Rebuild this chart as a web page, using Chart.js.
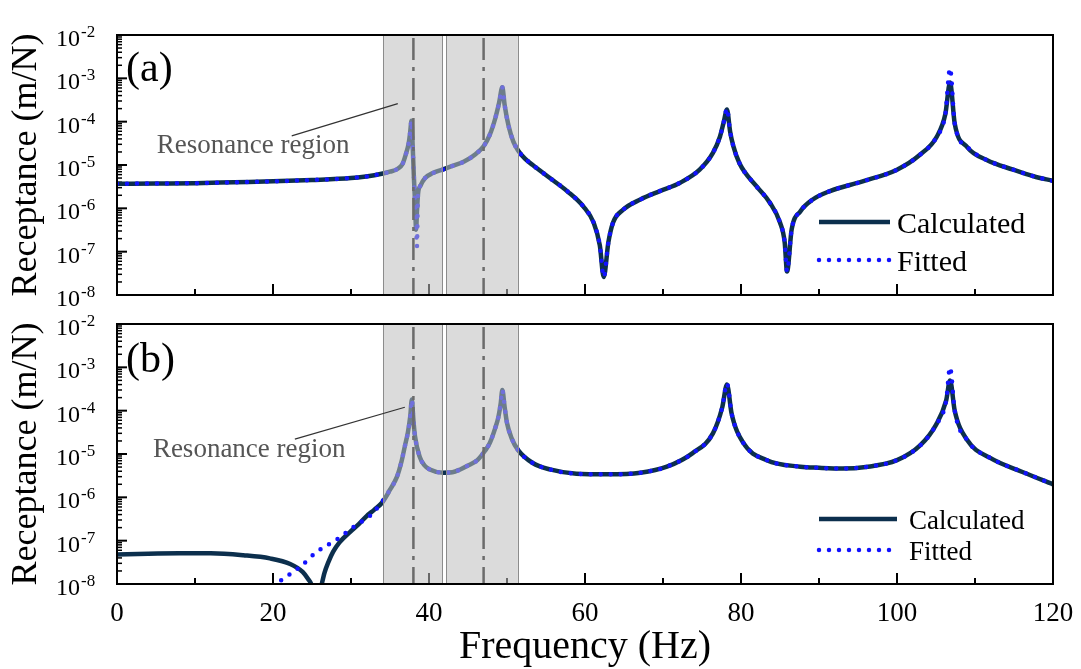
<!DOCTYPE html>
<html lang="en">
<head>
<meta charset="UTF-8">
<title>Receptance</title>
<script src="https://cdn.jsdelivr.net/npm/chart.js"></script>
<style>
  body { margin: 0; background: #fff; }
  #wrap { position: relative; width: 1081px; height: 669px; }
  canvas { position: absolute; left: 0; }
  #chartA { top: 0; }
  #chartB { top: 310px; }
</style>
</head>
<body>
<div id="wrap">
  <canvas id="chartA" width="1081" height="310"></canvas>
  <canvas id="chartB" width="1081" height="359"></canvas>
</div>
<script>
// ---- panel (a) ----
const aHz = [0, 5, 10, 15, 20, 25, 30, 33, 35, 36,
  36.6, 37.0, 37.4, 37.6, 37.75, 37.9, 38.05, 38.2, 38.35, 38.45,
  38.6, 38.9, 39.5, 40.5, 41.7, 43, 44.5, 46, 47, 47.8,
  48.5, 49.0, 49.4, 49.7, 50.2, 50.8, 51.4, 52.3, 53.3, 55.5,
  57.7, 59.8, 61.1, 61.9, 62.4, 63.0, 63.6, 64.9, 67.1, 69.6,
  72.2, 74.7, 76.4, 77.3, 77.8, 78.2, 78.6, 79.0, 79.8, 82.0,
  83.7, 85.0, 85.6, 85.9, 86.5, 87.6, 89.2, 91.4, 95.6, 100,
  102.9, 105.1, 106.2, 106.8, 107.4, 109, 111.5, 114.9, 117.5, 120];
const aCalc = [3.7e-6, 3.75e-6, 3.8e-6, 4.0e-6, 4.2e-6, 4.5e-6, 5.0e-6, 5.8e-6, 7.0e-6, 8.2e-6,
  1.05e-5, 1.7e-5, 3.2e-5, 6.0e-5, 1.05e-4, 3.0e-5, 6.0e-6, 1.5e-6, 3.2e-7, 8e-7,
  2.2e-6, 3.3e-6, 5.0e-6, 6.5e-6, 7.8e-6, 9.5e-6, 1.2e-5, 1.8e-5, 2.7e-5, 5.0e-5,
  1.2e-4, 2.8e-4, 6.2e-4, 2.4e-4, 8.0e-5, 3.5e-5, 2.2e-5, 1.4e-5, 1.0e-5, 5.0e-6,
  2.5e-6, 1.1e-6, 4.7e-7, 1.4e-7, 2.6e-8, 1.65e-7, 4.7e-7, 9.3e-7, 1.6e-6, 2.5e-6,
  3.9e-6, 7.8e-6, 1.9e-5, 4.5e-5, 1.0e-4, 1.9e-4, 6.0e-5, 2.8e-5, 1.1e-5, 3.2e-6,
  1.35e-6, 4.7e-7, 1.65e-7, 3.5e-8, 3.3e-7, 8.5e-7, 1.6e-6, 2.5e-6, 4.2e-6, 7.8e-6,
  1.7e-5, 4.5e-5, 1.5e-4, 8.0e-4, 9.0e-5, 2.6e-5, 1.3e-5, 7.8e-6, 5.5e-6, 4.3e-6];
const aFit = [3.7e-6, 3.75e-6, 3.8e-6, 4.0e-6, 4.2e-6, 4.5e-6, 5.0e-6, 5.8e-6, 7.0e-6, 8.2e-6,
  1.05e-5, 1.7e-5, 3.2e-5, 6.0e-5, 1.05e-4, 3.0e-5, 6.0e-6, 1.5e-6, 5e-7, 1.3e-7,
  2.2e-6, 3.3e-6, 5.0e-6, 6.5e-6, 7.8e-6, 9.5e-6, 1.2e-5, 1.8e-5, 2.7e-5, 5.0e-5,
  1.2e-4, 2.8e-4, 6.2e-4, 2.4e-4, 8.0e-5, 3.5e-5, 2.2e-5, 1.4e-5, 1.0e-5, 5.0e-6,
  2.5e-6, 1.1e-6, 4.7e-7, 1.4e-7, 2.6e-8, 1.65e-7, 4.7e-7, 9.3e-7, 1.6e-6, 2.5e-6,
  3.9e-6, 7.8e-6, 1.9e-5, 4.5e-5, 1.0e-4, 2.0e-4, 6.0e-5, 2.8e-5, 1.1e-5, 3.2e-6,
  1.35e-6, 4.7e-7, 1.65e-7, 3.5e-8, 3.3e-7, 8.5e-7, 1.6e-6, 2.5e-6, 4.2e-6, 7.8e-6,
  1.7e-5, 4.5e-5, 1.5e-4, 1.7e-3, 9.0e-5, 2.6e-5, 1.3e-5, 7.8e-6, 5.5e-6, 4.3e-6];

// ---- panel (b) ----
const bHz = [0, 4, 8, 12, 16.2, 19.6, 22.2, 23.8, 24.5, 25.0,
  25.6, 26.2, 26.6, 27.1, 27.7, 28.5, 29.9, 31.0, 32.0, 33.0,
  34.0, 35.0, 35.9, 36.5, 36.9, 37.3, 37.6, 37.8, 38.0, 38.2,
  38.8, 39.4, 40.1, 41.8, 43.0, 44.0, 45.0, 46.2, 47.2, 47.8,
  48.5, 48.9, 49.2, 49.4, 49.7, 50.0, 50.6, 51.4, 53.3, 55.5,
  58.9, 62.8, 67.1, 70.5, 73.8, 76.4, 77.6, 78.2, 78.8, 80.3,
  83.3, 87.6, 90, 93, 96, 100, 103, 105, 106.3, 106.8,
  107.4, 109, 112, 116, 120];
const bCalc = [4.8e-8, 5.0e-8, 5.1e-8, 5.1e-8, 4.6e-8, 3.9e-8, 2.9e-8, 1.9e-8, 1.3e-8, 9e-9,
  3e-9, 9e-9, 1.8e-8, 3.2e-8, 5.5e-8, 9e-8, 1.6e-7, 2.4e-7, 3.7e-7, 5.2e-7,
  7.6e-7, 1.5e-6, 3.0e-6, 7.0e-6, 1.5e-5, 3.2e-5, 7.5e-5, 1.8e-4, 6.0e-5, 2.6e-5,
  8.7e-6, 5.5e-6, 4.4e-6, 3.7e-6, 3.8e-6, 4.4e-6, 5.4e-6, 7.2e-6, 1.2e-5, 1.8e-5,
  4.0e-5, 7.2e-5, 1.5e-4, 3.0e-4, 1.2e-4, 5.2e-5, 2.3e-5, 1.25e-5, 6.2e-6, 4.4e-6,
  3.5e-6, 3.4e-6, 3.7e-6, 5.1e-6, 1.05e-5, 3.0e-5, 1.2e-4, 4.0e-4, 8.5e-5, 1.8e-5,
  7.2e-6, 5.1e-6, 4.8e-6, 4.6e-6, 5.0e-6, 7.2e-6, 1.6e-5, 4.7e-5, 1.7e-4, 5.0e-4,
  1.0e-4, 2.1e-5, 8.0e-6, 3.9e-6, 2.0e-6];
const bFitHz = [20.3, 20.7, 22.0, 23.5, 25.6, 28.2, 30.8, 32.4, 34.0,
  35.0, 35.9, 36.5, 36.9, 37.3, 37.6, 37.8, 38.0, 38.2,
  38.8, 39.4, 40.1, 41.8, 43.0, 44.0, 45.0, 46.2, 47.2, 47.8,
  48.5, 48.9, 49.2, 49.4, 49.7, 50.0, 50.6, 51.4, 53.3, 55.5,
  58.9, 62.8, 67.1, 70.5, 73.8, 76.4, 77.6, 78.2, 78.8, 80.3,
  83.3, 87.6, 90, 93, 96, 100, 103, 105, 106.3, 106.8,
  107.4, 109, 112, 116, 120];
const bFit = [8e-9, 1.06e-8, 1.6e-8, 2.5e-8, 5.5e-8, 1.07e-7, 2.4e-7, 3.7e-7, 8e-7,
  1.5e-6, 3.0e-6, 7.0e-6, 1.5e-5, 3.2e-5, 7.5e-5, 1.8e-4, 6.0e-5, 2.6e-5,
  8.7e-6, 5.5e-6, 4.4e-6, 3.7e-6, 3.8e-6, 4.4e-6, 5.4e-6, 7.2e-6, 1.2e-5, 1.8e-5,
  4.0e-5, 7.2e-5, 1.5e-4, 3.0e-4, 1.2e-4, 5.2e-5, 2.3e-5, 1.25e-5, 6.2e-6, 4.4e-6,
  3.5e-6, 3.4e-6, 3.7e-6, 5.1e-6, 1.05e-5, 3.0e-5, 1.2e-4, 4.3e-4, 8.5e-5, 1.8e-5,
  7.2e-6, 5.1e-6, 4.8e-6, 4.6e-6, 5.0e-6, 7.2e-6, 1.6e-5, 4.7e-5, 1.7e-4, 1.0e-3,
  1.0e-4, 2.1e-5, 8.0e-6, 3.9e-6, 2.0e-6];

// axes and marked regions
const xTicks = [0, 20, 40, 60, 80, 100, 120];
const xMinorTicks = [10, 30, 50, 70, 90, 110];
const yDecades = [-8, -7, -6, -5, -4, -3, -2];
const bands = [[34.1, 41.7], [42.2, 51.4]];
const modeLines = [38.0, 47.0];

const SERIF = '"Liberation Serif", "Times New Roman", serif';

function pts(hz, vals) {
  return hz.map((x, i) => ({ x: x, y: vals[i] }));
}

function seg(ctx, x0, y0, x1, y1, w) {
  ctx.lineWidth = w;
  ctx.beginPath();
  ctx.moveTo(x0, y0);
  ctx.lineTo(x1, y1);
  ctx.stroke();
}

function panelPlugin(cfg) {
  return {
    id: 'panel' + cfg.tag,
    beforeDatasetsDraw(chart) {
      const { ctx, chartArea: a, scales: { x, y } } = chart;
      ctx.save();
      ctx.strokeStyle = '#000';
      // inward ticks
      yDecades.forEach(p => {
        const py = y.getPixelForValue(Math.pow(10, p));
        seg(ctx, a.left, py, a.left + 10, py, 2);
        if (p < -2) {
          for (let m = 2; m <= 9; m++) {
            const my = y.getPixelForValue(m * Math.pow(10, p));
            seg(ctx, a.left, my, a.left + 5, my, 1.5);
          }
        }
      });
      xTicks.forEach(v => {
        const px = x.getPixelForValue(v);
        seg(ctx, px, a.bottom, px, a.bottom - 11, 2);
      });
      xMinorTicks.forEach(v => {
        const px = x.getPixelForValue(v);
        seg(ctx, px, a.bottom, px, a.bottom - 6, 2);
      });
      ctx.restore();
    },
    afterDatasetsDraw(chart) {
      const { ctx, chartArea: a, scales: { x, y } } = chart;
      const h = a.bottom - a.top;
      ctx.save();

      // grey resonance bands laid over the curves
      bands.forEach(b => {
        const x0 = x.getPixelForValue(b[0]);
        const x1 = x.getPixelForValue(b[1]);
        ctx.fillStyle = 'rgba(190,190,190,0.55)';
        ctx.fillRect(x0, a.top, x1 - x0, h);
        ctx.strokeStyle = '#8c8c8c';
        ctx.lineWidth = 1;
        ctx.strokeRect(Math.round(x0) + 0.5, a.top, Math.round(x1 - x0), h);
      });

      // dash-dot natural frequency markers
      ctx.strokeStyle = '#6b6b6b';
      ctx.setLineDash([22, 7, 4, 7]);
      modeLines.forEach(f => {
        const px = x.getPixelForValue(f);
        seg(ctx, px, a.top + 3, px, a.bottom, 2.5);
      });
      ctx.setLineDash([]);

      // frame
      ctx.strokeStyle = '#000';
      ctx.lineWidth = 2;
      ctx.strokeRect(a.left, a.top, a.right - a.left, h);

      // y tick labels 10^n
      ctx.fillStyle = '#000';
      yDecades.forEach(p => {
        const py = y.getPixelForValue(Math.pow(10, p));
        ctx.font = '24px ' + SERIF;
        ctx.textAlign = 'right';
        ctx.textBaseline = 'alphabetic';
        ctx.fillText('10', 80, py + 11);
        ctx.font = '17px ' + SERIF;
        ctx.textAlign = 'left';
        ctx.fillText('-' + Math.abs(p), 81, py + 2);
      });

      // y axis title
      ctx.save();
      ctx.translate(36, (a.top + a.bottom) / 2);
      ctx.rotate(-Math.PI / 2);
      ctx.font = '36px ' + SERIF;
      ctx.textAlign = 'center';
      ctx.textBaseline = 'alphabetic';
      ctx.fillText('Receptance (m/N)', 0, 0);
      ctx.restore();

      // panel tag
      ctx.font = '42px ' + SERIF;
      ctx.textAlign = 'left';
      ctx.fillText(cfg.tag, a.left + 9, a.top + cfg.tagDrop);

      // annotation
      ctx.fillStyle = '#555';
      ctx.strokeStyle = '#333';
      ctx.font = '27px ' + SERIF;
      ctx.fillText('Resonance region', x.getPixelForValue(cfg.note[0]), y.getPixelForValue(cfg.note[1]));
      seg(ctx, x.getPixelForValue(cfg.lead[0]), y.getPixelForValue(cfg.lead[1]),
        x.getPixelForValue(cfg.lead[2]), y.getPixelForValue(cfg.lead[3]), 1.2);

      // legend
      const lg = cfg.legend;
      ctx.fillStyle = '#000';
      ctx.font = lg.size + 'px ' + SERIF;
      chart.data.datasets.forEach((ds, i) => {
        const row = lg.rows[i];
        ctx.strokeStyle = ds.borderColor;
        ctx.lineCap = ds.borderCapStyle || 'butt';
        ctx.setLineDash(ds.borderDash || []);
        seg(ctx, lg.x0, row, lg.x1, row, ds.borderWidth);
        ctx.setLineDash([]);
        ctx.lineCap = 'butt';
        ctx.fillText(ds.label, lg.tx, row + Math.round(lg.size * 0.36));
      });

      // x tick labels and title on the lower panel
      if (cfg.xLabels) {
        ctx.font = '27px ' + SERIF;
        ctx.textAlign = 'center';
        xTicks.forEach(v => {
          ctx.fillText(String(v), x.getPixelForValue(v), a.bottom + 37);
        });
        ctx.font = '40px ' + SERIF;
        ctx.fillText('Frequency (Hz)', (a.left + a.right) / 2, a.bottom + 74);
      }
      ctx.restore();
    }
  };
}

function makeChart(id, calc, fit, cfg) {
  return new Chart(document.getElementById(id), {
    type: 'line',
    data: {
      datasets: [
        {
          label: 'Calculated',
          data: calc,
          order: 1,
          borderColor: '#0c2f4d',
          borderWidth: 4.5,
          pointRadius: 0,
          cubicInterpolationMode: 'monotone',
          fill: false
        },
        {
          label: 'Fitted',
          data: fit,
          order: 0,
          borderColor: '#1212ff',
          borderWidth: 4.5,
          borderDash: [0, 10],
          borderCapStyle: 'round',
          pointRadius: 0,
          cubicInterpolationMode: 'monotone',
          fill: false
        }
      ]
    },
    options: {
      responsive: false,
      animation: false,
      devicePixelRatio: 1,
      events: [],
      layout: { padding: cfg.padding },
      scales: {
        x: { type: 'linear', min: 0, max: 120, display: false },
        y: { type: 'logarithmic', min: 1e-8, max: 1e-2, display: false }
      },
      plugins: {
        legend: { display: false },
        tooltip: { enabled: false }
      }
    },
    plugins: [panelPlugin(cfg)]
  });
}

makeChart('chartA', pts(aHz, aCalc), pts(aHz, aFit), {
  tag: '(a)',
  tagDrop: 46,
  padding: { left: 117, right: 28, top: 35, bottom: 15 },
  note: [5.1, 1.9e-5],
  lead: [22.4, 4.7e-5, 36.0, 2.6e-4],
  legend: { x0: 819, x1: 890, tx: 897, rows: [222, 260], size: 30 },
  xLabels: false
});

makeChart('chartB', pts(bHz, bCalc), pts(bFitHz, bFit), {
  tag: '(b)',
  tagDrop: 48,
  padding: { left: 117, right: 28, top: 14, bottom: 85 },
  note: [4.6, 8.5e-6],
  lead: [22.8, 2.2e-5, 36.9, 1.2e-4],
  legend: { x0: 819, x1: 897, tx: 909, rows: [209, 240], size: 27 },
  xLabels: true
});
</script>
</body>
</html>
